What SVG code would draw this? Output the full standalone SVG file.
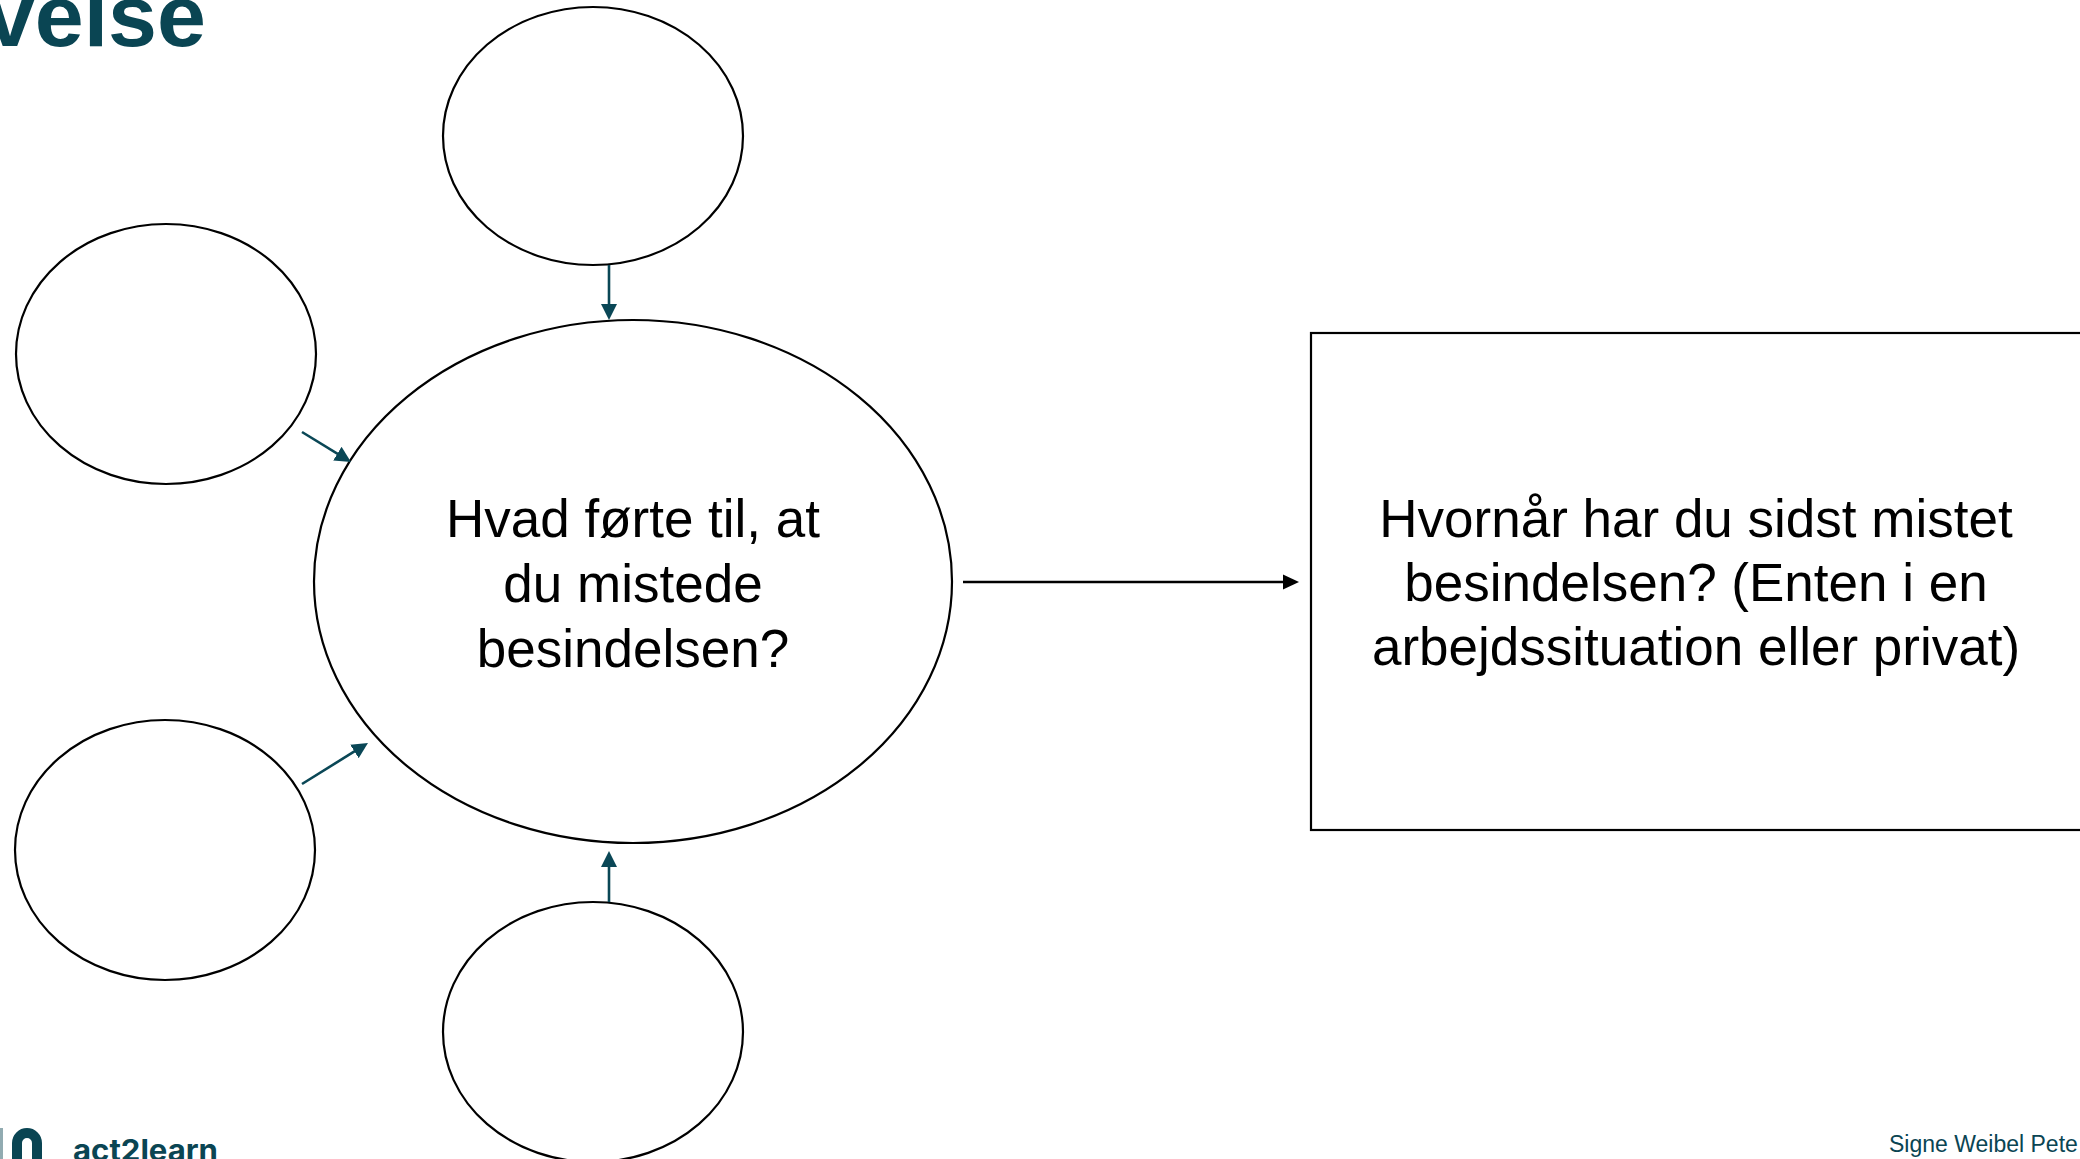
<svg xmlns="http://www.w3.org/2000/svg" width="2080" height="1159" viewBox="0 0 2080 1159">
  <style>
    .node { fill: #ffffff; stroke: #000000; stroke-width: 2.2; }
    .lbl { font-family: "Liberation Sans", Arial, sans-serif; font-size: 53px; fill: #000000; text-anchor: middle; }
    .conn-teal { stroke: #0a4756; stroke-width: 2.6; fill: none; marker-end: url(#ahTeal); }
    .conn-black { stroke: #000000; stroke-width: 2.4; fill: none; marker-end: url(#ahBlack); }
    .teal { fill: #0a4553; }
  </style>
  <defs>
    <marker id="ahTeal" markerUnits="userSpaceOnUse" markerWidth="16" markerHeight="16" refX="8" refY="8" orient="auto" viewBox="0 0 16 16">
      <path d="M0,0 L16,8 L0,16 Z" fill="#0a4756"/>
    </marker>
    <marker id="ahBlack" markerUnits="userSpaceOnUse" markerWidth="16" markerHeight="16" refX="8" refY="8" orient="auto" viewBox="0 0 16 16">
      <path d="M0,0.5 L16,8 L0,15.5 Z" fill="#000000"/>
    </marker>
  </defs>
  <rect width="2080" height="1159" fill="#ffffff"/>

  <!-- title (clipped) -->
  <text x="206" y="46" class="teal" font-family="'Liberation Sans', Arial, sans-serif" font-weight="700" font-size="88" text-anchor="end">velse</text>

  <g id="node-top">
    <ellipse class="node" cx="593" cy="136" rx="150" ry="129"/>
  </g>
  <g id="node-left-top">
    <ellipse class="node" cx="166" cy="354" rx="150" ry="130"/>
  </g>
  <g id="node-left-bottom">
    <ellipse class="node" cx="165" cy="850" rx="150" ry="130"/>
  </g>
  <g id="node-bottom">
    <ellipse class="node" cx="593" cy="1032" rx="150" ry="130"/>
  </g>
  <g id="node-center">
    <ellipse class="node" cx="633" cy="581.5" rx="319" ry="261.5"/>
    <text class="lbl" x="633" y="537">Hvad førte til, at</text>
    <text class="lbl" x="633" y="602">du mistede</text>
    <text class="lbl" x="633" y="667">besindelsen?</text>
  </g>
  <g id="node-box">
    <rect class="node" x="1311" y="333" width="790" height="497"/>
    <text class="lbl" x="1696" y="537">Hvornår har du sidst mistet</text>
    <text class="lbl" x="1696" y="601">besindelsen? (Enten i en</text>
    <text class="lbl" x="1696" y="665">arbejdssituation eller privat)</text>
  </g>

  <g id="connectors">
    <path class="conn-teal" d="M609,265 L609,312"/>
    <path class="conn-teal" d="M302,432 L344.2,457.8"/>
    <path class="conn-teal" d="M302,784 L361.2,747.2"/>
    <path class="conn-teal" d="M609,902 L609,859"/>
    <path class="conn-black" d="M963,582 L1291,582"/>
  </g>

  <!-- footer logo -->
  <g id="logo">
    <rect x="0" y="1128" width="3" height="31" class="teal" opacity="0.45"/>
    <path d="M17,1159 V1143 A10,10 0 0 1 37,1143 V1159" fill="none" stroke="#0a4553" stroke-width="10"/>
    <text x="73" y="1161" class="teal" font-family="Inter, 'Noto Sans', sans-serif" font-weight="700" font-size="30" textLength="145" lengthAdjust="spacingAndGlyphs">act2learn</text>
  </g>
  <text x="1889" y="1152" class="teal" font-family="'Liberation Sans', Arial, sans-serif" font-size="23">Signe Weibel Pete</text>
</svg>
